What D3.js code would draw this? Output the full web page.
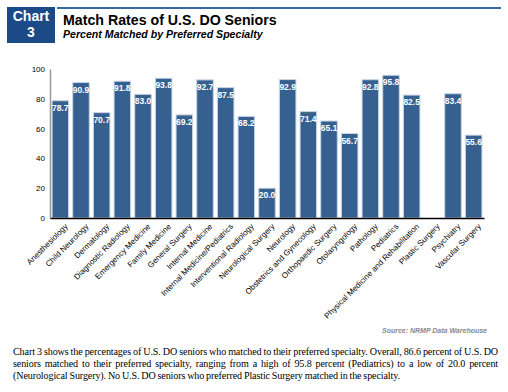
<!DOCTYPE html>
<html>
<head>
<meta charset="utf-8">
<script src="https://cdn.jsdelivr.net/npm/d3@7"></script>
<style>
  body { margin: 0; background: #fff; }
  #wrap { position: relative; width: 508px; height: 392px; overflow: hidden; }
  #note {
    position: absolute; left: 13px; top: 346px; width: 485px;
    font-family: "Liberation Serif", "Times New Roman", serif;
    font-size: 10.1px; letter-spacing: -0.12px; word-spacing: -0.5px;
    line-height: 12px; text-align: justify; color: #000;
  }
</style>
</head>
<body>
<div id="wrap">
  <svg width="508" height="392"></svg>
  <div id="note">Chart 3 shows the percentages of U.S. DO seniors who matched to their preferred specialty. Overall, 86.6 percent of U.S. DO seniors matched to their preferred specialty, ranging from a high of 95.8 percent (Pediatrics) to a low of 20.0 percent (Neurological Surgery). No U.S. DO seniors who preferred Plastic Surgery matched in the specialty.</div>
</div>
<script>
let specialties = ["Anesthesiology", "Child Neurology", "Dermatology", "Diagnostic Radiology",
    "Emergency Medicine", "Family Medicine", "General Surgery", "Internal Medicine",
    "Internal Medicine/Pediatrics", "Interventional Radiology", "Neurological Surgery",
    "Neurology", "Obstetrics and Gynecology", "Orthopaedic Surgery", "Otolaryngology",
    "Pathology", "Pediatrics", "Physical Medicine and Rehabilitation", "Plastic Surgery",
    "Psychiatry", "Vascular Surgery"];
let matchRates = [78.7, 90.9, 70.7, 91.8, 83.0, 93.8, 69.2, 92.7, 87.5, 68.2, 20.0,
    92.9, 71.4, 65.1, 56.7, 92.8, 95.8, 82.5, 0, 83.4, 55.6];
let yTicks = [0, 20, 40, 60, 80, 100];

let data = specialties.map((s, i) => ({ name: s, value: matchRates[i] }));

let svg = d3.select("svg");

// header
svg.append("rect")
    .attr("x", 7).attr("y", 7).attr("width", 48).attr("height", 36)
    .attr("fill", "#1b4a86");
svg.append("text")
    .attr("x", 31).attr("y", 21)
    .attr("text-anchor", "middle")
    .style("font", "bold 14px 'Liberation Sans', Arial, sans-serif")
    .attr("fill", "#fff")
    .text("Chart");
svg.append("text")
    .attr("x", 31).attr("y", 37)
    .attr("text-anchor", "middle")
    .style("font", "bold 14px 'Liberation Sans', Arial, sans-serif")
    .attr("fill", "#fff")
    .text("3");
svg.append("rect")
    .attr("x", 57).attr("y", 7).attr("width", 444).attr("height", 2)
    .attr("fill", "#3a68a0");
svg.append("text")
    .attr("x", 63).attr("y", 25)
    .style("font", "bold 14.2px 'Liberation Sans', Arial, sans-serif")
    .attr("fill", "#000")
    .text("Match Rates of U.S. DO Seniors");
svg.append("text")
    .attr("x", 63).attr("y", 38)
    .style("font", "italic bold 10.6px 'Liberation Sans', Arial, sans-serif")
    .attr("fill", "#000")
    .text("Percent Matched by Preferred Specialty");

// scales
let x = d3.scaleBand()
    .domain(specialties)
    .range([50, 484])
    .paddingInner(0.2)
    .paddingOuter(0.1);

let y = d3.scaleLinear()
    .domain([0, 100])
    .range([218, 69]);

// y axis
let yAxis = svg.append("g")
    .attr("transform", "translate(50,0)")
    .call(d3.axisLeft(y).tickValues(yTicks).tickSize(0).tickPadding(5));
yAxis.select(".domain").attr("stroke", "#999").attr("stroke-width", 1.5);
yAxis.selectAll("text")
    .style("font", "8px 'Liberation Sans', Arial, sans-serif")
    .attr("fill", "#000");

// bars
let bars = svg.append("g").selectAll("g")
    .data(data.filter(d => d.value > 0))
    .enter()
    .append("g");

bars.append("rect")
    .attr("x", d => x(d.name))
    .attr("y", d => y(d.value))
    .attr("width", x.bandwidth())
    .attr("height", d => y(0) - y(d.value))
    .attr("fill", "#35608f")
    .attr("stroke", "#c9d5e4")
    .attr("stroke-width", 1);

bars.append("text")
    .attr("x", d => x(d.name) + x.bandwidth() / 2)
    .attr("y", d => y(d.value) + 10)
    .attr("text-anchor", "middle")
    .style("font", "bold 8.5px 'Liberation Sans', Arial, sans-serif")
    .attr("fill", "#fff")
    .text(d => d.value.toFixed(1));

// x axis
let xAxis = svg.append("g")
    .attr("transform", "translate(0,218)")
    .call(d3.axisBottom(x).tickSize(0).tickSizeOuter(0).tickPadding(0));
xAxis.select(".domain").attr("stroke", "#000").attr("stroke-width", 1.5);
xAxis.selectAll("text")
    .style("font", "8px 'Liberation Sans', Arial, sans-serif")
    .attr("fill", "#000")
    .attr("text-anchor", "end")
    .attr("y", 0)
    .attr("dy", null)
    .attr("transform", "translate(8,9) rotate(-45)");

// source
svg.append("text")
    .attr("x", 487).attr("y", 333)
    .attr("text-anchor", "end")
    .style("font", "italic bold 7px 'Liberation Sans', Arial, sans-serif")
    .attr("fill", "#888")
    .text("Source: NRMP Data Warehouse");
</script>
</body>
</html>
